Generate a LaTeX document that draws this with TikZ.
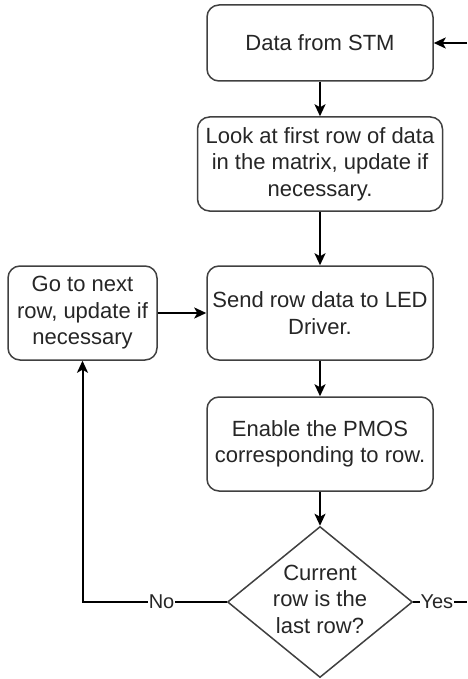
\documentclass[tikz,border=0pt]{standalone}
\usepackage{fontspec}
\setmainfont{Liberation Sans}
\usetikzlibrary{shapes.geometric,arrows.meta}
\begin{document}
\begin{tikzpicture}[x=1pt,y=-1pt,
  box/.style={draw=black!75, line width=1.5pt, rounded corners=12pt, fill=white, align=center, text=black!85, font=\fontsize{22}{26.5}\selectfont, inner sep=0pt},
  dia/.style={draw=black!75, line width=1.5pt, diamond, fill=white, inner sep=0pt, minimum width=185pt, minimum height=151pt},
  tip/.style={-{Stealth[length=12pt,width=11pt,inset=3pt]}},
  flow/.style={line width=2.6pt, tip},
  thinflow/.style={line width=2pt, tip},
  plain/.style={line width=2pt},
  lbl/.style={fill=white, inner sep=1pt, text=black!85, font=\fontsize{20}{24}\selectfont}]
\useasboundingbox (0,0) rectangle (467,679);

\node[box, minimum width=226pt, minimum height=76pt] (stm) at (320,43) {Data from STM};
\node[box, minimum width=245pt, minimum height=94pt] (look) at (320,164) {Look at first row of data\\in the matrix, update if\\necessary.};
\node[box, minimum width=226pt, minimum height=94pt] (send) at (320,313) {Send row data to LED\\Driver.};
\node[box, minimum width=226pt, minimum height=94pt] (pmos) at (320,444) {Enable the PMOS\\corresponding to row.};
\node[box, minimum width=149pt, minimum height=94pt] (next) at (82.5,313) {Go to next\\row, update if\\necessary};
\node[dia] (dec) at (320,602) {};
\node[align=center, text=black!85, font=\fontsize{22}{26.5}\selectfont, inner sep=0pt] (dect) at (320,599) {Current\\row is the\\last row?};

\coordinate (inend) at (467,43);
\coordinate (yesend) at (467,602);

\draw[flow] (stm) -- (look);
\draw[flow] (look) -- (send);
\draw[flow] (send) -- (pmos);
\draw[flow] (pmos) -- (dec);
\draw[thinflow] (next) -- (send);
\draw[thinflow] (dec.west) -| node[lbl, pos=0.226] {No} (next.south);
\draw[plain] (dec.east) -- node[lbl, pos=0.44] {Yes} (yesend);
\draw[thinflow] (inend) -- (stm.east);
\end{tikzpicture}
\end{document}
